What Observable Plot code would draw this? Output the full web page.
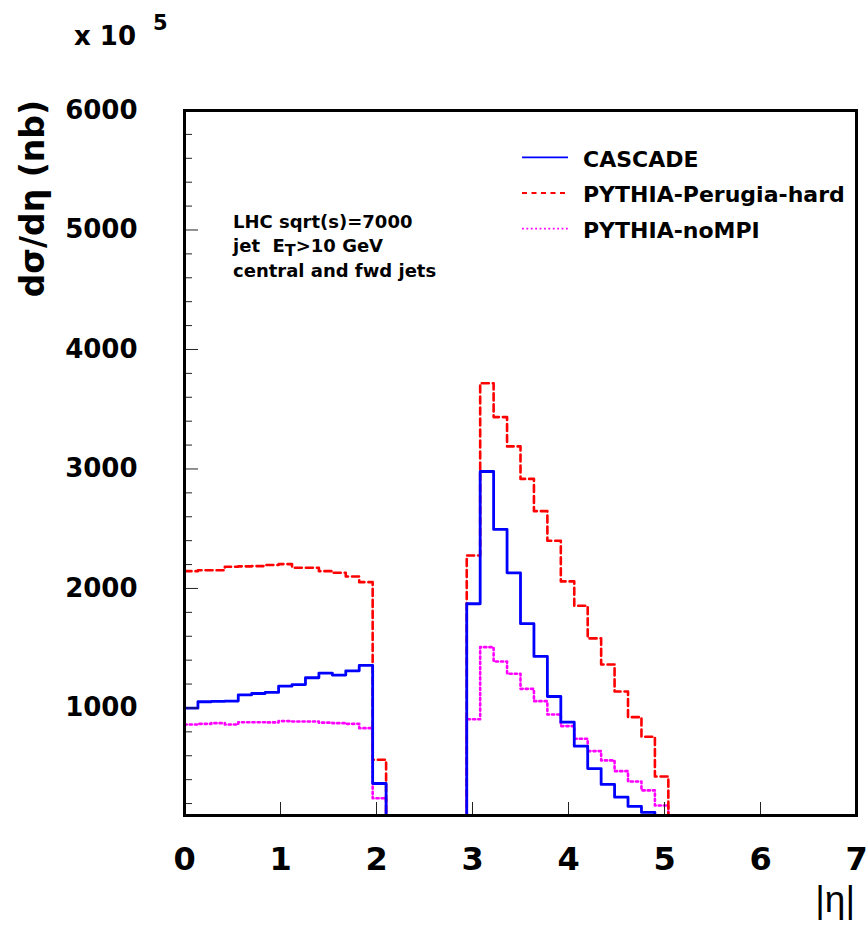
<!DOCTYPE html>
<html><head><meta charset="utf-8">
<script src="https://cdn.jsdelivr.net/npm/d3@7"></script>
<script src="https://cdn.jsdelivr.net/npm/@observablehq/plot@0.6"></script>
<style>
body{margin:0;background:#fff}
svg{display:block}
</style>
</head><body><div id="chart"></div>
<script>
// Histogram binning: 50 bins over |eta| in [0, 7]
const etaMin = 0, etaMax = 7, nBins = 50;

// Bin contents (units of 10^5 nb)
const cascade = [
  998, 1052, 1055, 1058, 1110, 1121, 1130, 1182, 1196, 1253, 1292, 1275, 1311, 1356, 368,
  0, 0, 0, 0, 0, 0,
  1872, 2979, 2494, 2131, 1705, 1431, 1096, 881, 680, 493, 360, 253, 176, 126,
  0, 0, 0, 0, 0, 0, 0, 0, 0, 0, 0, 0, 0, 0, 0
];
const perugiaHard = [
  2145, 2153, 2153, 2182, 2185, 2187, 2196, 2204, 2174, 2174, 2145, 2131, 2100, 2053, 567,
  0, 0, 0, 0, 0, 0,
  2276, 3718, 3434, 3189, 2917, 2647, 2399, 2059, 1855, 1582, 1364, 1138, 923, 759, 427,
  0, 0, 0, 0, 0, 0, 0, 0, 0, 0, 0, 0, 0, 0
];
const noMPI = [
  862, 867, 873, 862, 881, 881, 879, 890, 887, 887, 877, 873, 867, 831, 244,
  0, 0, 0, 0, 0, 0,
  906, 1509, 1389, 1286, 1160, 1057, 945, 848, 742, 639, 561, 471, 385, 310, 184,
  0, 0, 0, 0, 0, 0, 0, 0, 0, 0, 0, 0, 0, 0
];

const seriesNames = ["CASCADE", "PYTHIA-Perugia-hard", "PYTHIA-noMPI"];
const seriesColors = ["#0000ff", "#ff0000", "#ff00ff"];
const seriesDash = [null, "7,4", "2.2,3"];
const legendDash = [null, "5,4.5", "1.8,2.6"];

const xTicks = [0, 1, 2, 3, 4, 5, 6, 7];
const yTicks = [1000, 2000, 3000, 4000, 5000, 6000];
const yMinorTicks = [200, 400, 600, 800, 1200, 1400, 1600, 1800, 2200, 2400, 2600, 2800,
  3200, 3400, 3600, 3800, 4200, 4400, 4600, 4800, 5200, 5400, 5600, 5800];
const infoLines = ["LHC sqrt(s)=7000", "jet  E|T|>10 GeV", "central and fwd jets"];

function histRows(values, name) {
  const w = (etaMax - etaMin) / nBins;
  const rows = values.map((v, i) => ({eta: etaMin + i * w, y: v, s: name}));
  rows.push({eta: etaMax, y: values[values.length - 1], s: name});
  return rows;
}
const allSeries = [cascade, perugiaHard, noMPI];

const plot = Plot.plot({
  width: 867, height: 925,
  marginLeft: 184, marginRight: 11, marginTop: 110, marginBottom: 110,
  x: {domain: [0, 7]},
  y: {domain: [100, 6000]},
  style: {background: "#fff", fontFamily: "DejaVu Sans", color: "#000"},
  marks: [
    ...allSeries.map((vals, k) => Plot.line(histRows(vals, seriesNames[k]), {
      x: "eta", y: "y", curve: "step-after",
      stroke: seriesColors[k], strokeWidth: k === 0 ? 2.8 : 2.6,
      strokeDasharray: seriesDash[k], clip: true
    })).reverse(),
    Plot.axisX(xTicks, {tickSize: -13, tickFormat: () => "", label: null, stroke: "#222"}),
    Plot.axisX(xTicks, {tickSize: 0, tickPadding: 32, fontSize: 32, fontWeight: "bold", label: null, tickFormat: d => String(d)}),
    Plot.axisY(yTicks, {tickSize: -14, tickFormat: () => "", label: null, stroke: "#222"}),
    Plot.axisY(yMinorTicks, {tickSize: -8, tickFormat: () => "", label: null, stroke: "#222"}),
    Plot.axisY(yTicks, {tickSize: 0, tickPadding: 47, fontSize: 26, fontWeight: "bold", label: null, tickFormat: d => String(d)}),
    Plot.frame({strokeWidth: 3, stroke: "#000"})
  ]
});
document.getElementById("chart").appendChild(plot);

const svg = d3.select(plot);
const bold = "DejaVu Sans";

// Scale factor header
svg.append("text").attr("x", 74).attr("y", 45).attr("text-anchor", "start")
  .attr("font-family", bold).attr("font-weight", "bold").attr("font-size", 26).attr("fill", "#000")
  .text("x 10");
svg.append("text").attr("x", 153).attr("y", 29.5).attr("text-anchor", "start")
  .attr("font-family", bold).attr("font-weight", "bold").attr("font-size", 21).attr("fill", "#000")
  .text("5");

// Y axis title
svg.append("text")
  .attr("transform", "translate(44,100) rotate(-90)")
  .attr("text-anchor", "end")
  .attr("font-family", bold).attr("font-weight", "bold").attr("font-size", 33).attr("fill", "#000")
  .text("dσ/dη (nb)");

// X axis title
svg.append("text").attr("x", 855).attr("y", 912).attr("text-anchor", "end")
  .attr("font-family", "Liberation Sans").attr("font-size", 37).attr("fill", "#000")
  .text("|η|");

// Info text
const infoY = [228, 252, 277];
infoLines.forEach((line, i) => {
  const t = svg.append("text").attr("x", 233).attr("y", infoY[i]).attr("text-anchor", "start")
    .attr("font-family", bold).attr("font-weight", "bold").attr("font-size", 18).attr("fill", "#000")
    .style("white-space", "pre");
  const parts = line.split("|");
  if (parts.length === 3) {
    t.append("tspan").text(parts[0]);
    t.append("tspan").attr("dy", 4).attr("font-size", 16).text(parts[1]);
    t.append("tspan").attr("dy", -4).text(parts[2]);
  } else t.text(line);
});

// Legend
seriesNames.forEach((name, i) => {
  const yy = 157.3 + i * 35.7;
  svg.append("line").attr("x1", 522).attr("x2", 568).attr("y1", yy).attr("y2", yy)
    .attr("stroke", seriesColors[i]).attr("stroke-width", 1.8)
    .attr("stroke-dasharray", legendDash[i]);
  svg.append("text").attr("x", 583).attr("y", yy + 9.3).attr("text-anchor", "start")
    .attr("font-family", bold).attr("font-weight", "bold").attr("font-size", 22).attr("fill", "#000")
    .text(name);
});
</script>
</body></html>
